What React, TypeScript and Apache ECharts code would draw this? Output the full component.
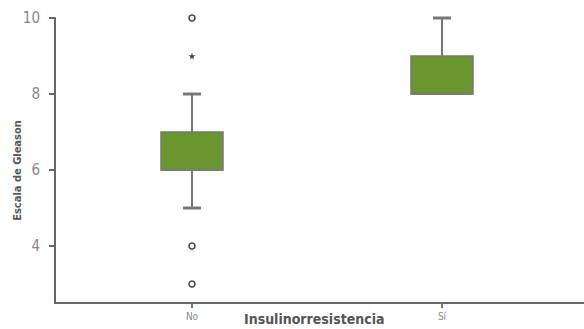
import React, { useEffect, useRef } from "react";
import * as echarts from "echarts";

const categories = ["No", "Sí"];
// [min, Q1, median, Q3, max]
const boxValues = [
  [5, 6, 6, 7, 8],
  [8, 8, 8, 9, 10],
];
const outlierCircles = [
  ["No", 10],
  ["No", 4],
  ["No", 3],
];
const outlierStars = [["No", 9]];
const yTicks = [4, 6, 8, 10];

const FONT = "'Liberation Sans Narrow', 'DejaVu Sans Condensed', 'Roboto Condensed', sans-serif";

export default function App() {
  const ref = useRef<HTMLDivElement>(null);
  useEffect(() => {
    const chart = echarts.init(ref.current!, null, { renderer: "svg" });
    const boxData = boxValues.map((b, i) => [i, ...b]);
    chart.setOption({
      animation: false,
      grid: [
        { left: 67, right: 17, top: 18, bottom: 26, outerBoundsMode: "none", containLabel: false },
        { left: 55, right: 0, top: 18, bottom: 26, outerBoundsMode: "none", containLabel: false },
      ],
      xAxis: [
        {
          type: "category",
          gridIndex: 0,
          data: categories,
          axisLine: { show: false },
          axisTick: { show: true, alignWithLabel: true, length: 5, lineStyle: { color: "#777", width: 2 } },
          axisLabel: { color: "#888", fontSize: 10, fontFamily: FONT, margin: 8 },
        },
        {
          type: "value",
          gridIndex: 1,
          min: 0,
          max: 1,
          axisLine: { show: true, lineStyle: { color: "#666", width: 2 } },
          axisTick: { show: false },
          axisLabel: { show: false },
          splitLine: { show: false },
        },
      ],
      yAxis: [
        {
          type: "value",
          gridIndex: 0,
          min: 2.5,
          max: 10,
          offset: 12,
          axisLine: { show: true, lineStyle: { color: "#666", width: 2 } },
          axisTick: { show: true, length: 6, customValues: yTicks, lineStyle: { color: "#666", width: 2 } },
          axisLabel: { color: "#888", fontSize: 15, fontFamily: FONT, margin: 15, customValues: yTicks },
          splitLine: { show: false },
          name: "Escala de Gleason",
          nameLocation: "middle",
          nameGap: 32,
          nameMoveOverlap: false,
          nameTextStyle: { color: "#555", fontSize: 11, fontWeight: "bold", fontFamily: FONT, padding: [0, 0, 0, -20] },
        },
        {
          type: "value",
          gridIndex: 1,
          min: 2.5,
          max: 10,
          show: false,
        },
      ],
      graphic: [
        {
          type: "text",
          left: 244,
          top: 312,
          style: {
            text: "Insulinorresistencia",
            fill: "#555",
            font: `bold 14px ${FONT}`,
          },
        },
      ],
      series: [
        {
          type: "custom",
          xAxisIndex: 0,
          yAxisIndex: 0,
          data: boxData,
          encode: { x: 0, y: [1, 2, 3, 4, 5] },
          renderItem: (params: any, api: any) => {
            const i = api.value(0);
            const pMin = api.coord([i, api.value(1)]);
            const pQ1 = api.coord([i, api.value(2)]);
            const pMed = api.coord([i, api.value(3)]);
            const pQ3 = api.coord([i, api.value(4)]);
            const pMax = api.coord([i, api.value(5)]);
            const x = pQ1[0];
            const bw = 62;
            const cw = 18;
            const children: any[] = [
              { type: "line", shape: { x1: x, y1: pQ3[1], x2: x, y2: pMax[1] }, style: { stroke: "#777", lineWidth: 2 } },
              { type: "line", shape: { x1: x, y1: pQ1[1], x2: x, y2: pMin[1] }, style: { stroke: "#777", lineWidth: 2 } },
              { type: "rect", shape: { x: x - bw / 2, y: pQ3[1], width: bw, height: pQ1[1] - pQ3[1] }, style: { fill: "#6a962f", stroke: "#777", lineWidth: 1.5 } },
              { type: "line", shape: { x1: x - bw / 2, y1: pMed[1], x2: x + bw / 2, y2: pMed[1] }, style: { stroke: "#777", lineWidth: 1.5 } },
            ];
            if (api.value(5) > api.value(4)) {
              children.push({ type: "line", shape: { x1: x - cw / 2, y1: pMax[1], x2: x + cw / 2, y2: pMax[1] }, style: { stroke: "#777", lineWidth: 3 } });
            }
            if (api.value(1) < api.value(2)) {
              children.push({ type: "line", shape: { x1: x - cw / 2, y1: pMin[1], x2: x + cw / 2, y2: pMin[1] }, style: { stroke: "#777", lineWidth: 3 } });
            }
            return { type: "group", children };
          },
        },
        {
          type: "scatter",
          xAxisIndex: 0,
          yAxisIndex: 0,
          data: outlierCircles,
          symbol: "circle",
          symbolSize: 6,
          itemStyle: { color: "#fff", borderColor: "#111", borderWidth: 1.5 },
        },
        {
          type: "scatter",
          xAxisIndex: 0,
          yAxisIndex: 0,
          data: outlierStars,
          symbol: "path://M50,0 L61,35 L98,35 L68,57 L79,91 L50,70 L21,91 L32,57 L2,35 L39,35 Z",
          symbolSize: 7,
          itemStyle: { color: "#111" },
        },
      ],
    });
    return () => chart.dispose();
  }, []);
  return <div ref={ref} style={{ width: 584, height: 329, position: "absolute", left: 0, top: 0 }} />;
}
